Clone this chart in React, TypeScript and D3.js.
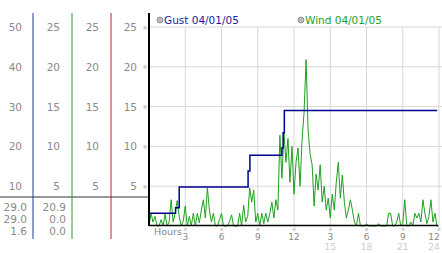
import React from "react";
import * as d3 from "d3";

// Left panel tick labels
const gustTicks = [10, 20, 30, 40, 50];
const windTicks = [5, 10, 15, 20, 25];
const gustStats = ["29.0", "29.0", "1.6"];
const windStats = ["20.9", "0.0", "0.0"];

// Bottom axis labels
const hourTicks = [3, 6, 9, 12, 15, 18, 21, 24];
const hourLabels = ["3", "6", "9", "12", "3", "6", "9", "12"];
const hourLabels2 = ["", "", "", "", "15", "18", "21", "24"];

// Gust series (hours, value on the 0-50 scale), stepped
const gustHours = [0.08, 2.2, 2.5, 8.2, 8.35, 11.0, 11.1, 11.2, 23.85];
const gustValues = [3.2, 4.6, 9.8, 13.8, 17.8, 19.6, 23.4, 29.0, 29.0];

// Wind series, one value every 10 minutes (0-25 scale)
const windValues = [
  0, 1.6, 0.5, 1.2, 0, 0, 0.8, 0, 1.5, 0,
  0.5, 3.3, 0.5, 1.6, 3.2, 1.2, 0, 0.6, 2.5, 0,
  1.2, 0, 1.6, 0, 1.6, 0.4, 2.0, 3.3, 1.0, 4.8,
  2.0, 0.5, 1.6, 0, 0, 0.8, 1.6, 0, 0, 0,
  0.6, 1.4, 0, 0, 0, 1.6, 0, 2.6, 0.5, 1.2,
  4.8, 3.0, 4.5, 0.5, 1.6, 0, 1.6, 0.3, 1.6, 0.5,
  1.6, 3.0, 1.0, 3.3, 2.0, 11.4, 6.0, 11.7, 8.0, 11.0,
  5.5, 10.0, 4.0, 8.0, 9.8, 5.0, 10.8, 14.3, 20.9, 12.0,
  9.0, 7.7, 2.5, 6.5, 4.5, 7.7, 3.0, 5.0, 2.0, 3.5,
  1.0, 4.0, 2.0, 5.5, 8.0, 3.5, 6.4, 3.0, 1.0, 2.0,
  3.3, 2.0, 0.5, 0, 1.6, 0, 0, 0, 0.3, 0,
  0, 0, 0, 0, 0.3, 0, 0, 0, 0, 1.6,
  1.6, 0, 0, 0.5, 1.6, 0, 0.3, 3.3, 0, 0,
  0.5, 0, 1.6, 1.0, 1.6, 0.5, 3.3, 1.6, 0.3, 1.2,
  3.3, 0.5, 1.6, 0, 0,
];

const W = 442;
const H = 253;
const FONT = "DejaVu Sans, Verdana, sans-serif";

export default function App() {
  const x = d3.scaleLinear().domain([0, 24]).range([149, 439]);
  const yMain = d3.scaleLinear().domain([0, 25]).range([226, 27]);
  const yGust = d3.scaleLinear().domain([0, 50]).range([226, 27]);

  const gustData = gustHours.map((h, i) => ({ h, v: gustValues[i] }));
  const windData = windValues.map((v, i) => ({ h: i / 6, v }));

  const gustLine = d3
    .line<{ h: number; v: number }>()
    .x((d) => x(d.h))
    .y((d) => yGust(d.v))
    .curve(d3.curveStepAfter);
  const windLine = d3
    .line<{ h: number; v: number }>()
    .x((d) => x(d.h))
    .y((d) => yMain(d.v));

  const gridYs = windTicks.map((t) => yMain(t));
  const statsY = [211, 223, 235];
  const labelX = (t: number) => Math.min(x(t), 434);

  return (
    <svg
      width={W}
      height={H}
      style={{ position: "absolute", left: 0, top: 0, background: "#fff" }}
      fontFamily={FONT}
    >
      <rect x={0} y={0} width={W} height={H} fill="#fff" />
      {/* grid */}
      {gridYs.map((y, i) => (
        <line key={"gy" + i} x1={149} x2={442} y1={y} y2={y} stroke="#d8d8d8" />
      ))}
      {hourTicks.map((t) => (
        <line key={"gx" + t} x1={x(t)} x2={x(t)} y1={27} y2={226} stroke="#d8d8d8" />
      ))}

      {/* left panel columns */}
      <line x1={0} x2={149} y1={197} y2={197} stroke="#999" strokeWidth={2} />
      <line x1={33} x2={33} y1={13} y2={239} stroke="#1a3a9a" />
      <line x1={72} x2={72} y1={13} y2={239} stroke="#2a9a2a" />
      <line x1={111} x2={111} y1={13} y2={239} stroke="#aa2a2a" />

      {gustTicks.map((t) => (
        <text key={"g" + t} x={22} y={yGust(t) + 4} fontSize={10.5} fill="#8a8a8a" textAnchor="end">
          {t}
        </text>
      ))}
      {windTicks.map((t) => (
        <g key={"w" + t}>
          <text x={60} y={yMain(t) + 4} fontSize={10.5} fill="#8a8a8a" textAnchor="end">{t}</text>
          <text x={99} y={yMain(t) + 4} fontSize={10.5} fill="#8a8a8a" textAnchor="end">{t}</text>
          <text x={137} y={yMain(t) + 4} fontSize={10.5} fill="#8a8a8a" textAnchor="end">{t}</text>
          <text x={145} y={yMain(t) + 2.5} fontSize={6} fill="#aaa" textAnchor="middle">※</text>
        </g>
      ))}
      {gustStats.map((s, i) => (
        <text key={"gs" + i} x={27} y={statsY[i]} fontSize={10.5} fill="#8a8a8a" textAnchor="end">{s}</text>
      ))}
      {windStats.map((s, i) => (
        <text key={"ws" + i} x={66} y={statsY[i]} fontSize={10.5} fill="#8a8a8a" textAnchor="end">{s}</text>
      ))}

      {/* series */}
      <path d={windLine(windData) || ""} fill="none" stroke="#1ea01e" strokeWidth={1} />
      <path d={gustLine(gustData) || ""} fill="none" stroke="#000090" strokeWidth={1.5} />

      {/* axes */}
      <line x1={149} x2={149} y1={13} y2={226} stroke="#000" strokeWidth={2} />
      <line x1={149} x2={438} y1={225.5} y2={225.5} stroke="#000" strokeWidth={1.5} />

      {/* legend */}
      <circle cx={160} cy={20} r={3} fill="#bbb" stroke="#888" strokeWidth={0.8} />
      <text x={164} y={24} fontSize={10.5} fill="#1a1aa0">Gust 04/01/05</text>
      <circle cx={301} cy={20} r={3} fill="#bbb" stroke="#888" strokeWidth={0.8} />
      <text x={305} y={24} fontSize={10.5} fill="#1e9e1e">Wind 04/01/05</text>

      {/* bottom axis labels */}
      <text x={154} y={235} fontSize={9.5} fill="#888">Hours</text>
      {hourTicks.map((t, i) => (
        <g key={"hl" + t}>
          <text x={x(t)} y={231} fontSize={5} fill="#aaa" textAnchor="middle">※</text>
          <text x={labelX(t)} y={240} fontSize={9} fill="#888" textAnchor="middle">{hourLabels[i]}</text>
          <text x={labelX(t)} y={250} fontSize={9} fill="#ccc" textAnchor="middle">{hourLabels2[i]}</text>
        </g>
      ))}
    </svg>
  );
}
